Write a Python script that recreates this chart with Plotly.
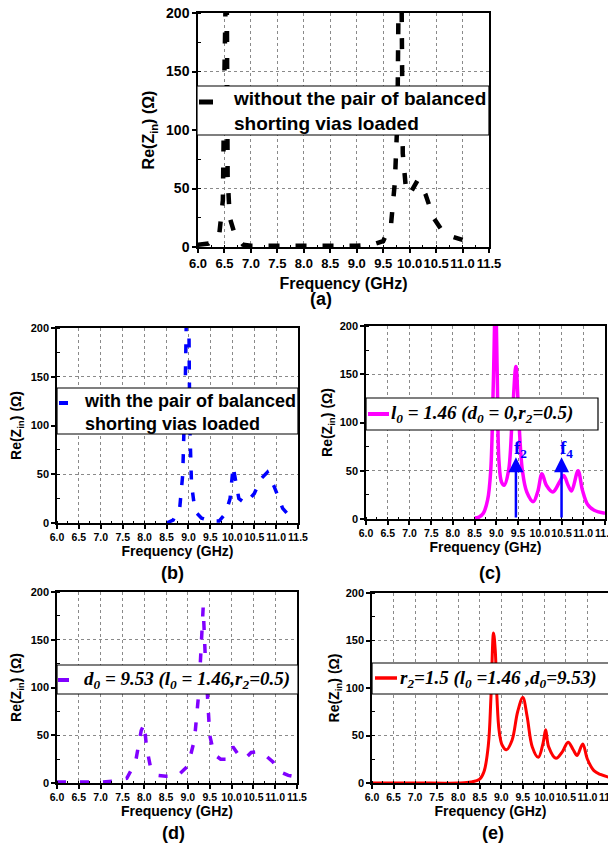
import plotly.graph_objects as go

# ---------------- data ----------------
freq_ticks = [6.0, 6.5, 7.0, 7.5, 8.0, 8.5, 9.0, 9.5, 10.0, 10.5, 11.0, 11.5]
re_ticks = [0, 50, 100, 150, 200]

# (a) without the pair of balanced shorting vias
freq_a = [6.0, 6.2, 6.4, 6.47, 6.5, 6.52, 6.54, 6.56, 6.6, 6.7, 6.85, 7.0, 7.5, 8.0, 8.5, 9.0,
          9.3, 9.5, 9.65, 9.72, 9.77, 9.8, 9.84, 9.87, 9.93, 10.0, 10.15, 10.3, 10.45, 10.6, 10.8, 11.0]
re_a = [2, 3, 10, 40, 150, 260, 260, 60, 25, 10, 2, 1, 1, 1, 1, 1,
        2, 5, 20, 55, 110, 260, 260, 80, 50, 45, 57, 45, 25, 15, 9, 6]

# (b) with the pair of balanced shorting vias
freq_b = [8.5, 8.65, 8.8, 8.87, 8.93, 8.97, 9.0, 9.03, 9.07, 9.15, 9.3, 9.5, 9.7, 9.85, 9.95,
          10.02, 10.07, 10.15, 10.3, 10.5, 10.65, 10.8, 10.95, 11.15, 11.35]
re_b = [0, 3, 15, 50, 150, 260, 260, 100, 40, 12, 5, 2, 2, 10, 25,
        58, 45, 25, 20, 30, 45, 52, 38, 15, 5]

# (c) l0 = 1.46
freq_c = [8.5, 8.6, 8.7, 8.8, 8.87, 8.93, 8.98, 9.02, 9.06, 9.12, 9.18, 9.28, 9.36, 9.45, 9.52,
          9.6, 9.7, 9.85, 9.95, 10.05, 10.15, 10.3, 10.45, 10.55, 10.65, 10.73, 10.88, 10.98,
          11.1, 11.25, 11.5]
re_c = [1, 2, 6, 20, 50, 140, 230, 150, 60, 38, 35, 50, 100, 158, 100,
        50, 28, 18, 28, 47, 35, 28, 38, 45, 35, 29, 50, 30,
        15, 9, 6]

# (d) d0 = 9.53
freq_d = [6.0, 6.5, 7.0, 7.3, 7.6, 7.8, 7.93, 8.0, 8.05, 8.15, 8.3, 8.5, 8.75, 9.0, 9.15, 9.25,
          9.3, 9.35, 9.4, 9.45, 9.5, 9.6, 9.75, 9.9, 10.03, 10.15, 10.3, 10.45, 10.65, 10.8,
          10.95, 11.1, 11.3, 11.5]
re_d = [1, 1, 1, 2, 5, 22, 55, 62, 38, 15, 8, 7, 7, 18, 45, 95,
        150, 184, 130, 80, 50, 30, 25, 25, 38, 30, 25, 32, 33, 28,
        22, 12, 8, 6]

# (e) r2 = 1.5
freq_e = [6.0, 7.0, 8.0, 8.3, 8.5, 8.6, 8.7, 8.76, 8.82, 8.86, 8.9, 8.95, 9.02, 9.12, 9.25, 9.38,
          9.5, 9.6, 9.72, 9.86, 9.97, 10.03, 10.1, 10.27, 10.42, 10.55, 10.67, 10.76, 10.89,
          11.0, 11.15, 11.3, 11.5]
re_e = [0, 0, 0, 1, 4, 12, 40, 90, 158, 140, 90, 55, 40, 35, 45, 75,
        90, 70, 38, 27, 42, 56, 38, 26, 33, 43, 35, 29, 41,
        25, 13, 9, 6]

# f2 / f4 markers in (c)
mark_freq = [9.45, 10.5]
mark_level = [64, 64]
mark_text = ["f<sub>2</sub>", "f<sub>4</sub>"]

label_a = "without the pair of balanced<br>shorting vias loaded"
label_b = "with the pair of balanced<br>shorting vias loaded"
label_c = "l<sub>0</sub> = 1.46 (d<sub>0</sub> = 0,r<sub>2</sub>=0.5)"
label_d = "d<sub>0</sub> = 9.53 (l<sub>0</sub> = 1.46,r<sub>2</sub>=0.5)"
label_e = "r<sub>2</sub>=1.5 (l<sub>0</sub> =1.46 ,d<sub>0</sub>=9.53)"

# ---------------- figure ----------------
# The page body has an 8 px default margin; the figure is sized to fill the
# remaining window, and layout is specified in window pixels minus that offset.
OFF = 8
W, H = 608, 836
SANS = "Liberation Sans, Arial, sans-serif"
SERIF = "Liberation Serif, Times New Roman, serif"

styles = {
    "a": dict(color="black", width=4.5, dash="11px,16px"),
    "b": dict(color="#0000ff", width=3.5, dash="9px,13px"),
    "c": dict(color="#ff00ff", width=3.5),
    "d": dict(color="#8000ff", width=3.5, dash="9px,14px"),
    "e": dict(color="#ff0000", width=3),
}

fig = go.Figure()
fig.add_trace(go.Scatter(x=freq_a, y=re_a, mode="lines", name="without the pair of balanced shorting vias loaded",
                         line=styles["a"], xaxis="x", yaxis="y"))
fig.add_trace(go.Scatter(x=freq_b, y=re_b, mode="lines", name="with the pair of balanced shorting vias loaded",
                         line=styles["b"], xaxis="x2", yaxis="y2"))
fig.add_trace(go.Scatter(x=freq_c, y=re_c, mode="lines", name="l0 = 1.46", line_shape="spline",
                         line=styles["c"], xaxis="x3", yaxis="y3"))
fig.add_trace(go.Scatter(x=freq_d, y=re_d, mode="lines", name="d0 = 9.53",
                         line=styles["d"], xaxis="x4", yaxis="y4"))
fig.add_trace(go.Scatter(x=freq_e, y=re_e, mode="lines", name="r2 = 1.5", line_shape="spline",
                         line=styles["e"], xaxis="x5", yaxis="y5"))


def px(xp, yp):
    return (xp - OFF) / W, 1 - (yp - OFF) / H


def px_dom_x(a, b):
    return [min(1.0, (a - OFF) / W), min(1.0, (b - OFF) / W)]


def px_dom_y(top, bottom):
    return [1 - (bottom - OFF) / H, 1 - (top - OFF) / H]


def xaxis(dom, anchor, tsize, title_size, standoff):
    return dict(domain=dom, anchor=anchor, range=[6, 11.5], automargin=False,
                tickvals=freq_ticks, ticktext=[f"{v:.1f}" for v in freq_ticks], tickangle=0,
                ticklabeloverflow="allow",
                showline=True, linecolor="black", linewidth=1.5, mirror=True,
                ticks="outside", ticklen=4, tickwidth=1.5, tickcolor="black",
                minor=dict(ticks="inside", ticklen=2, tickwidth=1, dtick=0.25, tick0=6.0,
                           tickcolor="black", showgrid=False),
                showgrid=True, gridcolor="#8a8a8a", gridwidth=1, griddash="dot",
                zeroline=False,
                tickfont=dict(family=SANS, size=tsize, color="black", weight="bold"),
                title=dict(text="Frequency (GHz)", standoff=standoff,
                           font=dict(family=SANS, size=title_size, color="black", weight="bold")))


def yaxis(dom, anchor, tsize, title_size, standoff):
    return dict(domain=dom, anchor=anchor, range=[0, 200], automargin=False,
                tickvals=re_ticks, tickangle=0, ticklabeloverflow="allow",
                showline=True, linecolor="black", linewidth=1.5, mirror=True,
                ticks="outside", ticklen=4, tickwidth=1.5, tickcolor="black",
                minor=dict(ticks="inside", ticklen=3, tickwidth=1, dtick=25, tick0=0,
                           tickcolor="black", showgrid=False),
                showgrid=True, gridcolor="#8a8a8a", gridwidth=1, griddash="dot",
                zeroline=False,
                tickfont=dict(family=SANS, size=tsize, color="black", weight="bold"),
                title=dict(text="Re(Z<sub>in</sub>) (Ω)", standoff=standoff,
                           font=dict(family=SANS, size=title_size, color="black", weight="bold")))


fig.update_layout(
    width=W, height=H,
    margin=dict(l=0, r=0, t=0, b=0, autoexpand=False),
    paper_bgcolor="white", plot_bgcolor="white",
    showlegend=False,
    xaxis=xaxis(px_dom_x(198, 489), "y", 13, 16, 7),
    yaxis=yaxis(px_dom_y(13, 247), "x", 14, 16, 7),
    xaxis2=xaxis(px_dom_x(57, 298), "y2", 10.5, 14, 4),
    yaxis2=yaxis(px_dom_y(328, 523), "x2", 11, 14, 10),
    xaxis3=xaxis(px_dom_x(366, 605), "y3", 10.5, 14, 4),
    yaxis3=yaxis(px_dom_y(326, 519), "x3", 11, 14, 4),
    xaxis4=xaxis(px_dom_x(57, 297), "y4", 10.5, 14, 4),
    yaxis4=yaxis(px_dom_y(592, 783), "x4", 11, 14, 10),
    xaxis5=xaxis(px_dom_x(372, 609), "y5", 10.5, 14, 4),
    yaxis5=yaxis(px_dom_y(593, 783), "x5", 11, 14, 3),
)

# ---- legend boxes (drawn as framed keys with real text) ----
sans_leg_a = dict(family=SANS, size=19, color="black", weight="bold")
sans_leg_b = dict(family=SANS, size=18, color="black", weight="bold")
serif_leg = dict(family=SERIF, size=19, color="black", weight="bold", style="italic")

legends = [
    # box (x0, y0, x1, y1), key line (x0, x1, y), text (x, ycenter), label, font, style
    ((197, 86, 489, 135), (199, 213, 102), (231, 110.5), label_a, sans_leg_a, styles["a"]),
    ((57, 388, 298, 434), (59, 68, 403), (82, 412), label_b, sans_leg_b, styles["b"]),
    ((366, 398, 598, 430), (368, 389, 414), (389, 414), label_c, serif_leg, styles["c"]),
    ((57, 665, 298, 694), (58, 69, 680), (82, 680), label_d, serif_leg, styles["d"]),
    ((372, 663, 609, 694), (375, 397, 678), (398, 679), label_e, serif_leg, styles["e"]),
]
for (bx0, by0, bx1, by1), (kx0, kx1, ky), (tx, ty), lab, fnt, sty in legends:
    X0, Y0 = px(bx0, by0)
    X1, Y1 = px(bx1, by1)
    fig.add_shape(type="rect", xref="paper", yref="paper", x0=X0, y0=Y1, x1=X1, y1=Y0,
                  line=dict(color="black", width=1.2), fillcolor="white", layer="above")
    K0, KY = px(kx0, ky)
    K1, _ = px(kx1, ky)
    fig.add_shape(type="line", xref="paper", yref="paper", x0=K0, y0=KY, x1=K1, y1=KY,
                  line=dict(color=sty["color"], width=sty["width"] + 0.5), layer="above")
    TX, TY = px(tx, ty)
    fig.add_annotation(x=TX, y=TY, xref="paper", yref="paper", xanchor="left", yanchor="middle",
                       align="left", showarrow=False, text=lab, font=fnt)

# f2 / f4 arrows in (c)
for f, lvl, txt in zip(mark_freq, mark_level, mark_text):
    fig.add_annotation(x=f, y=lvl, ax=f, ay=0, xref="x3", yref="y3", axref="x3", ayref="y3",
                       showarrow=True, arrowhead=2, arrowsize=1.2, arrowwidth=2.5,
                       arrowcolor="#0000ff", text="")
    fig.add_annotation(x=f - 0.09, y=lvl - 6, xref="x3", yref="y3", xanchor="left", yanchor="bottom",
                       showarrow=False, text=txt,
                       font=dict(family=SERIF, size=19, color="#0000ff", weight="bold"))

# panel labels
for txt, xp, yp in [("(a)", 321, 299), ("(b)", 172, 573), ("(c)", 490, 573),
                    ("(d)", 173, 833), ("(e)", 493, 833)]:
    PX, PY = px(xp, yp)
    fig.add_annotation(x=PX, y=PY, xref="paper", yref="paper",
                       xanchor="center", yanchor="middle", showarrow=False, text=txt,
                       font=dict(family=SANS, size=18, color="black", weight="bold"))

fig.write_html("out.html")
